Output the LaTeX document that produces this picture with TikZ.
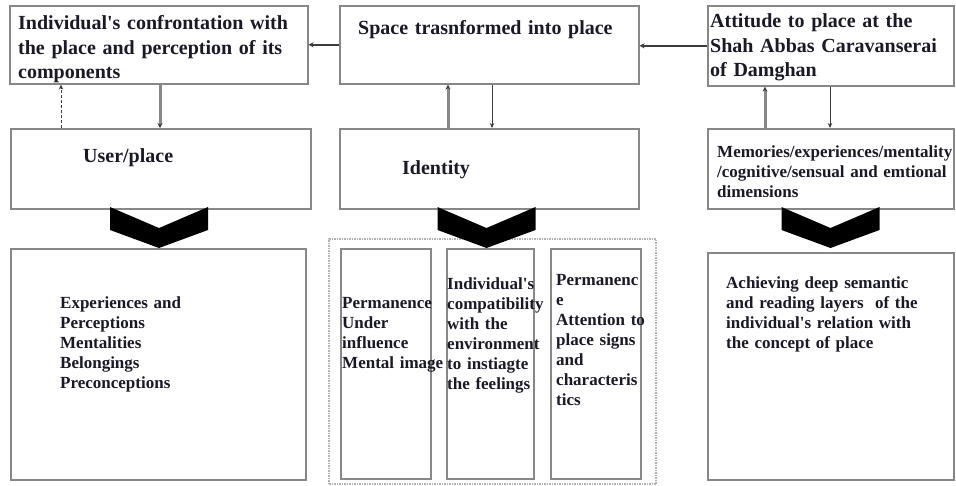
\documentclass[tikz,border=0pt]{standalone}
\usepackage{fontspec}
\setmainfont{Liberation Serif}[Ligatures=TeXOff]
\usetikzlibrary{arrows.meta}
\definecolor{boxgray}{RGB}{135,135,135}
\definecolor{txt}{RGB}{25,25,40}
\definecolor{linegray}{RGB}{135,135,135}
\definecolor{darkline}{RGB}{60,60,60}
\newcommand\lstrut{\rule{0pt}{0.8em}}
\begin{document}
\begin{tikzpicture}[x=1pt,y=-1pt,
  box/.style={draw=boxgray, line width=1.6pt, fill=white, inner sep=0pt, anchor=north west},
  big/.style={anchor=north west, inner sep=0pt, text width=320pt, align=left, text=txt,
    font=\fontsize{20}{24.5}\selectfont\bfseries},
  small/.style={anchor=north west, inner sep=0pt, text width=260pt, align=left, text=txt,
    font=\fontsize{17}{20}\selectfont\bfseries},
  thickcon/.style={draw=linegray, line width=3pt, -{Stealth[length=5pt,width=5pt,color=darkline]}},
  thincon/.style={draw=darkline, line width=1pt, -{Stealth[length=5pt,width=4.5pt]}},
  dashcon/.style={draw=darkline, line width=1pt, dashed, dash pattern=on 3pt off 2pt, -{Stealth[length=5pt,width=4.5pt]}},
  horcon/.style={draw=darkline, line width=1.8pt, -{Stealth[length=5pt,width=5pt]}},
  chev/.style={fill=black, draw=none},
  container/.style={draw=gray!60, line width=2pt, dash pattern=on 1.5pt off 1pt, inner sep=0pt, anchor=north west}
]
\fill[white] (0,0) rectangle (956,485);
\useasboundingbox (0,0) rectangle (956,485);

% top row
\node[box, minimum width=298pt, minimum height=78pt] (A) at (9,5) {};
\node[box, minimum width=299pt, minimum height=78pt] (B) at (339,5) {};
\node[box, minimum width=246pt, minimum height=80pt] (C) at (707,5) {};
% middle row
\node[box, minimum width=300pt, minimum height=80pt] (D) at (10,128) {};
\node[box, minimum width=299pt, minimum height=80pt] (E) at (339,128) {};
\node[box, minimum width=246pt, minimum height=80pt] (F) at (707,128) {};
% bottom row
\node[box, minimum width=295pt, minimum height=231pt] (G) at (10,248) {};
\node[container, minimum width=327pt, minimum height=245pt] (K) at (328,238) {};
\node[box, minimum width=90pt, minimum height=230pt] (K1) at (340,248) {};
\node[box, minimum width=87pt, minimum height=230pt] (K2) at (446,248) {};
\node[box, minimum width=90pt, minimum height=230pt] (K3) at (550,248) {};
\node[box, minimum width=246pt, minimum height=227pt] (H) at (707,252) {};

% texts
\node[big] (tA) at (18,13.6) {\lstrut Individual's confrontation with\\the place and perception of its\\components};
\node[big] (tB) at (358,18.6) {\lstrut Space trasnformed into place};
\node[big] (tC) at (710,11.6) {\lstrut Attitude to place at the\\Shah Abbas Caravanserai\\of Damghan};
\node[big] (tD) at (83,146.6) {\lstrut User/place};
\node[big] (tE) at (402,158.6) {\lstrut Identity};
\node[small] (tF) at (717,143.4) {\lstrut Memories/experiences/mentality\\/cognitive/sensual and emtional\\dimensions};
\node[small] (tG) at (60,294.4) {\lstrut Experiences and\\Perceptions\\Mentalities\\Belongings\\Preconceptions};
\node[small] (tK1) at (342,294.4) {\lstrut Permanence\\Under\\influence\\Mental image};
\node[small] (tK2) at (447,275.4) {\lstrut Individual's\\compatibility\\with the\\environment\\to instiagte\\the feelings};
\node[small] (tK3) at (556,271.4) {\lstrut Permanenc\\e\\Attention to\\place signs\\and\\characteris\\tics};
\node[small] (tH) at (726,274.4) {\lstrut Achieving deep semantic\\and reading layers\ \ of the\\individual's relation with\\the concept of place};

% chevrons
\foreach \cx in {159,486.5,830.5}{
  \fill[chev] (\cx-49,207) -- (\cx,228) -- (\cx+49,207) -- (\cx+49,230) -- (\cx,248) -- (\cx-49,230) -- cycle;
}

% connectors
\draw[horcon] (B.west) -- (A.east);
\draw[horcon] (C.west) -- (C.west -| B.east);
\draw[thickcon] ([xshift=151pt]A.south west) -- ([xshift=150pt]D.north west);
\draw[dashcon] ([xshift=51pt]D.north west) -- ([xshift=52pt]A.south west);
\draw[thickcon] ([xshift=109pt]E.north west) -- ([xshift=109pt]B.south west);
\draw[thincon] ([xshift=153pt]B.south west) -- ([xshift=153pt]E.north west);
\draw[thickcon] ([xshift=58pt]F.north west) -- ([xshift=58pt]C.south west);
\draw[thincon] ([xshift=123pt]C.south west) -- ([xshift=123pt]F.north west);
\end{tikzpicture}
\end{document}
